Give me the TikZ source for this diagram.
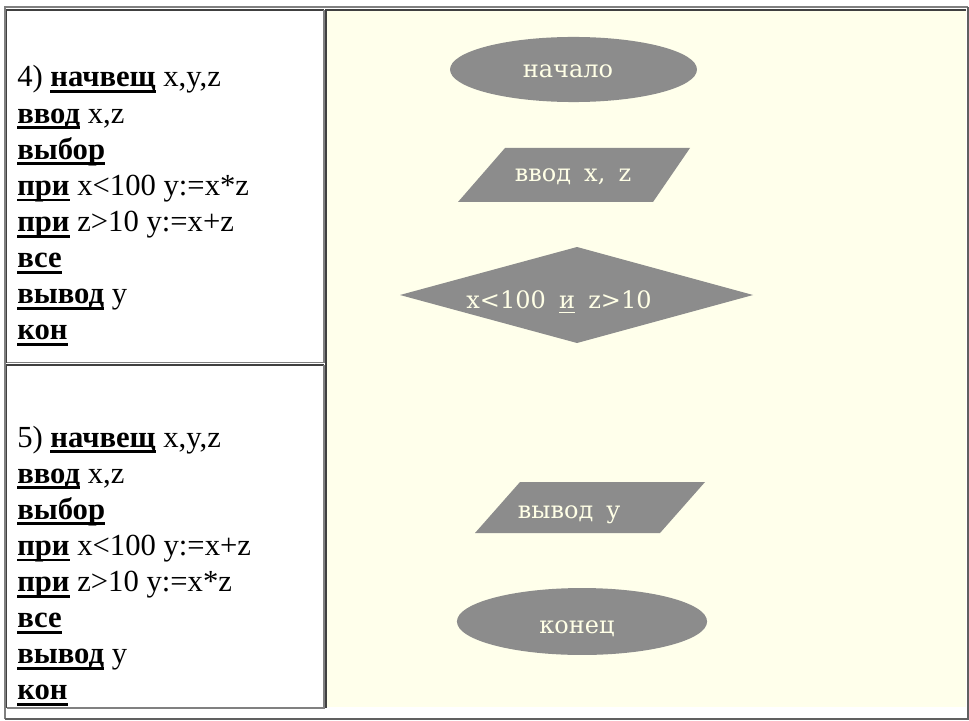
\documentclass[tikz,border=0pt]{standalone}
\usepackage{fontspec}
\setmainfont{Liberation Serif}
\newfontfamily\fcfont{DejaVu Serif}
\definecolor{cellyellow}{HTML}{FFFFEB}
\definecolor{shapegray}{HTML}{8C8C8C}
\definecolor{shapetext}{HTML}{FFFFE6}
\definecolor{borderdark}{HTML}{404040}
\definecolor{borderlight}{HTML}{808080}
\definecolor{outerdark}{HTML}{606060}
\newcommand\kw[1]{\setbox0\hbox{\bfseries #1}\rlap{\rule[-4.6pt]{\wd0}{2.2pt}}\box0\relax}
\newcommand\fcul[1]{\setbox0\hbox{#1}\rlap{\rule[-4pt]{\wd0}{1.2pt}}\box0\relax}
\newcommand\fcsp{\hspace{0.55em}}
\tikzset{
  codeline/.style={anchor=base west, inner sep=0pt, font=\fontsize{23}{27}\selectfont},
  fctext/.style={anchor=base, inner sep=0pt, text=shapetext, font=\fcfont\fontsize{18}{21}\selectfont},
  shapefill/.style={fill=shapegray},
  darkline/.style={draw=borderdark, line width=1.3pt},
  lightline/.style={draw=borderlight, line width=1.3pt},
}
\begin{document}
\begin{tikzpicture}[x=0.75pt,y=-0.75pt]
\useasboundingbox (0,0) rectangle (969,720);
\fill[white] (0,0) rectangle (969,720);
% right cell background
\fill[cellyellow] (327,11) rectangle (966,707);
% outer table border
\draw[draw=borderlight, line width=1.5pt] (4.5,719) -- (4.5,7.5) -- (967.5,7.5);
\draw[draw=outerdark, line width=1.5pt] (4.5,718.5) -- (967.5,718.5) -- (967.5,7.5);
% cell 1
\draw[darkline] (6.5,362.5) -- (6.5,9.8) -- (324,9.8);
\draw[lightline] (6.5,362.5) -- (324,362.5) -- (324,9.8);
% cell 2
\draw[darkline] (6.5,708) -- (6.5,365.3) -- (324,365.3);
\draw[lightline] (6.5,708) -- (324,708) -- (324,365.3);
% right cell
\draw[darkline] (326.3,708) -- (326.3,9.8) -- (966,9.8);

% code block 1
\node[codeline] (a1) at (17,87) {4) \kw{начвещ} x,y,z};
\node[codeline] (a2) at (17,123.1) {\kw{ввод} x,z};
\node[codeline] (a3) at (17,159.2) {\kw{выбор}};
\node[codeline] (a4) at (17,195.3) {\kw{при} x<100 y:=x*z};
\node[codeline] (a5) at (17,231.4) {\kw{при} z>10 y:=x+z};
\node[codeline] (a6) at (17,267.5) {\kw{все}};
\node[codeline] (a7) at (17,303.6) {\kw{вывод} y};
\node[codeline] (a8) at (17,339.7) {\kw{кон}};
% code block 2
\node[codeline] (b1) at (17,447) {5) \kw{начвещ} x,y,z};
\node[codeline] (b2) at (17,483.1) {\kw{ввод} x,z};
\node[codeline] (b3) at (17,519.2) {\kw{выбор}};
\node[codeline] (b4) at (17,555.3) {\kw{при} x<100 y:=x+z};
\node[codeline] (b5) at (17,591.4) {\kw{при} z>10 y:=x*z};
\node[codeline] (b6) at (17,627.5) {\kw{все}};
\node[codeline] (b7) at (17,663.6) {\kw{вывод} y};
\node[codeline] (b8) at (17,699.7) {\kw{кон}};

% flowchart shapes
\fill[shapefill] (573.5,69.5) ellipse [x radius=92.6pt, y radius=24.4pt];
\fill[shapefill] (505,148) -- (690,148) -- (653,202) -- (458,202) -- cycle;
\fill[shapefill] (577,247) -- (753,295) -- (577,343) -- (400,295) -- cycle;
\fill[shapefill] (520,482) -- (705,482) -- (660,533) -- (475,533) -- cycle;
\fill[shapefill] (582,621.5) ellipse [x radius=93.8pt, y radius=25.1pt];

\node[fctext] (start) at (568,78) {начало};
\node[fctext] (input) at (573,182) {ввод\fcsp x,\fcsp z};
\node[fctext] (cond) at (559,308) {x<100\fcsp\fcul{и}\fcsp z>10};
\node[fctext] (output) at (569,518) {вывод\fcsp y};
\node[fctext] (stop) at (577,633) {конец};
\end{tikzpicture}
\end{document}
